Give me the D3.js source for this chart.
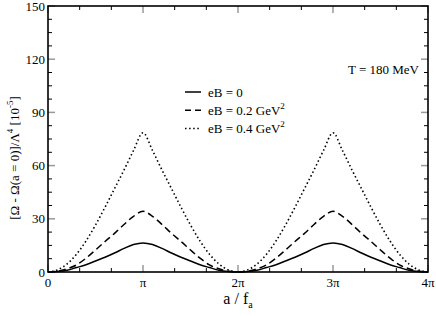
<!DOCTYPE html>
<html>
<head>
<meta charset="utf-8">
<script src="https://cdn.jsdelivr.net/npm/d3@7"></script>
<style>
  body { margin: 0; background: #fff; }
</style>
</head>
<body>
<div id="chart"></div>
<script>
const width = 436;
const height = 316;
const marginTop = 6;
const marginRight = 8;
const marginBottom = 44;
const marginLeft = 48;

// a / f_a in units of pi
const aValues = [0, 0.1, 0.2, 0.3, 0.4, 0.5, 0.6, 0.7, 0.8, 0.9, 1.0,
    1.1, 1.2, 1.3, 1.4, 1.5, 1.6, 1.7, 1.8, 1.9, 2.0,
    2.1, 2.2, 2.3, 2.4, 2.5, 2.6, 2.7, 2.8, 2.9, 3.0,
    3.1, 3.2, 3.3, 3.4, 3.5, 3.6, 3.7, 3.8, 3.9, 4.0];

// [Omega - Omega(a=0)] / Lambda^4 in 1e-5
const eB0 = [0, 0.3, 1.0, 2.5, 4.1, 6.2, 8.3, 10.7, 13.3, 15.5, 16.4,
    15.5, 13.3, 10.7, 8.3, 6.2, 4.1, 2.5, 1.0, 0.3, 0,
    0.3, 1.0, 2.5, 4.1, 6.2, 8.3, 10.7, 13.3, 15.5, 16.4,
    15.5, 13.3, 10.7, 8.3, 6.2, 4.1, 2.5, 1.0, 0.3, 0];
const eB02 = [0, 0.4, 1.8, 4.0, 7.8, 12.4, 17.2, 21.8, 26.8, 31.4, 34.2,
    31.4, 26.8, 21.8, 17.2, 12.4, 7.8, 4.0, 1.8, 0.4, 0,
    0.4, 1.8, 4.0, 7.8, 12.4, 17.2, 21.8, 26.8, 31.4, 34.2,
    31.4, 26.8, 21.8, 17.2, 12.4, 7.8, 4.0, 1.8, 0.4, 0];
const eB04 = [0, 1.2, 4.5, 10.0, 17.5, 26.5, 36.5, 47.0, 57.5, 68.5, 78.5,
    68.5, 57.5, 47.0, 36.5, 26.5, 17.5, 10.0, 4.5, 1.2, 0,
    1.2, 4.5, 10.0, 17.5, 26.5, 36.5, 47.0, 57.5, 68.5, 78.5,
    68.5, 57.5, 47.0, 36.5, 26.5, 17.5, 10.0, 4.5, 1.2, 0];

const xTicks = [0, 1, 2, 3, 4];
const xTickLabels = ["0", "π", "2π", "3π", "4π"];
const yTicks = [0, 30, 60, 90, 120, 150];

const seriesNames = ["eB = 0", "eB = 0.2 GeV", "eB = 0.4 GeV"];
const seriesSup = ["", "2", "2"];
const seriesDash = [null, "7,4", "1.5,2.6"];

const series = [eB0, eB02, eB04].map((vals, i) => ({
    name: seriesNames[i],
    sup: seriesSup[i],
    dash: seriesDash[i],
    value: vals.map((v, j) => ({ a: aValues[j], v: v }))
}));

const svg = d3.select("#chart")
    .append("svg")
    .attr("width", width)
    .attr("height", height)
    .attr("viewBox", [0, 0, width, height])
    .attr("font-family", "'Liberation Serif', 'Times New Roman', 'DejaVu Serif', serif");

const x = d3.scaleLinear([0, 4], [marginLeft, width - marginRight]);
const y = d3.scaleLinear([0, 150], [height - marginBottom, marginTop]);

const line = d3.line()
    .x(d => x(d.a))
    .y(d => y(d.v))
    .curve(d3.curveMonotoneX);

// minor ticks (inside, on all four sides)
const xMinor = d3.range(0, 4.001, 1 / 3).filter(t => Math.abs(t - Math.round(t)) > 1e-6);
const yMinor = d3.range(0, 150.001, 7.5).filter(t => t % 30 !== 0);

const ticks = svg.append("g");
xMinor.forEach(t => {
    ticks.append("line").attr("x1", x(t)).attr("x2", x(t))
        .attr("y1", y(0)).attr("y2", y(0) - 4).attr("stroke", "#000");
    ticks.append("line").attr("x1", x(t)).attr("x2", x(t))
        .attr("y1", y(150)).attr("y2", y(150) + 4).attr("stroke", "#000");
});
yMinor.forEach(t => {
    ticks.append("line").attr("x1", x(0)).attr("x2", x(0) + 4)
        .attr("y1", y(t)).attr("y2", y(t)).attr("stroke", "#000");
    ticks.append("line").attr("x1", x(4)).attr("x2", x(4) - 4)
        .attr("y1", y(t)).attr("y2", y(t)).attr("stroke", "#000");
});
// major ticks are grey
xTicks.forEach(t => {
    ticks.append("line").attr("x1", x(t)).attr("x2", x(t))
        .attr("y1", y(0)).attr("y2", y(0) - 7).attr("stroke", "#999").attr("stroke-width", 1.5);
    ticks.append("line").attr("x1", x(t)).attr("x2", x(t))
        .attr("y1", y(150)).attr("y2", y(150) + 7).attr("stroke", "#999").attr("stroke-width", 1.5);
});
yTicks.forEach(t => {
    ticks.append("line").attr("x1", x(0)).attr("x2", x(0) + 7)
        .attr("y1", y(t)).attr("y2", y(t)).attr("stroke", "#999").attr("stroke-width", 1.5);
    ticks.append("line").attr("x1", x(4)).attr("x2", x(4) - 7)
        .attr("y1", y(t)).attr("y2", y(t)).attr("stroke", "#999").attr("stroke-width", 1.5);
});

// curves
series.forEach(s => {
    svg.append("path")
        .datum(s.value)
        .attr("fill", "none")
        .attr("stroke", "#000")
        .attr("stroke-width", s.dash === "1.5,2.6" ? 1.6 : 1.5)
        .attr("stroke-dasharray", s.dash)
        .attr("d", line);
});

// frame
svg.append("rect")
    .attr("x", x(0)).attr("y", y(150))
    .attr("width", x(4) - x(0)).attr("height", y(0) - y(150))
    .attr("fill", "none").attr("stroke", "#000").attr("stroke-width", 1.6);

// tick labels
svg.append("g").selectAll("text")
    .data(xTicks)
    .join("text")
    .attr("x", d => x(d))
    .attr("y", y(0) + 15)
    .attr("text-anchor", "middle")
    .style("font-size", "13px")
    .text((d, i) => xTickLabels[i]);

svg.append("g").selectAll("text")
    .data(yTicks)
    .join("text")
    .attr("x", x(0) - 3)
    .attr("y", d => y(d) + 4.5)
    .attr("text-anchor", "end")
    .style("font-size", "13px")
    .text(d => d);

// axis titles
const xTitle = svg.append("text")
    .attr("x", x(2))
    .attr("y", 304)
    .attr("text-anchor", "middle")
    .style("font-size", "16px");
xTitle.append("tspan").text("a / f");
xTitle.append("tspan").attr("dy", 4).style("font-size", "10px").text("a");

const yTitle = svg.append("text")
    .attr("transform", `translate(19,${158}) rotate(-90)`)
    .attr("text-anchor", "middle")
    .style("font-size", "13px");
yTitle.append("tspan").text("[Ω - Ω(a = 0)]/Λ");
yTitle.append("tspan").attr("dy", -6).style("font-size", "9px").text("4");
yTitle.append("tspan").attr("dy", 6).text(" [10");
yTitle.append("tspan").attr("dy", -6).style("font-size", "9px").text("-5");
yTitle.append("tspan").attr("dy", 6).text("]");

// temperature annotation
svg.append("text")
    .attr("x", 419)
    .attr("y", 74)
    .attr("text-anchor", "end")
    .style("font-size", "13px")
    .text("T = 180 MeV");

// legend
const legend = svg.append("g")
    .attr("transform", "translate(185,92)");

const legendItem = legend.selectAll("g")
    .data(series)
    .join("g")
    .attr("transform", (d, i) => `translate(0,${i * 18.3})`);

legendItem.append("line")
    .attr("x1", 0).attr("x2", 16)
    .attr("y1", 0).attr("y2", 0)
    .attr("stroke", "#000")
    .attr("stroke-width", 1.5)
    .attr("stroke-dasharray", d => d.dash === "7,4" ? "6,4" : d.dash);

const legendText = legendItem.append("text")
    .attr("x", 23)
    .attr("y", 4.5)
    .style("font-size", "13px");
legendText.append("tspan").text(d => d.name);
legendText.append("tspan")
    .attr("dy", -6)
    .style("font-size", "9px")
    .text(d => d.sup);
</script>
</body>
</html>
